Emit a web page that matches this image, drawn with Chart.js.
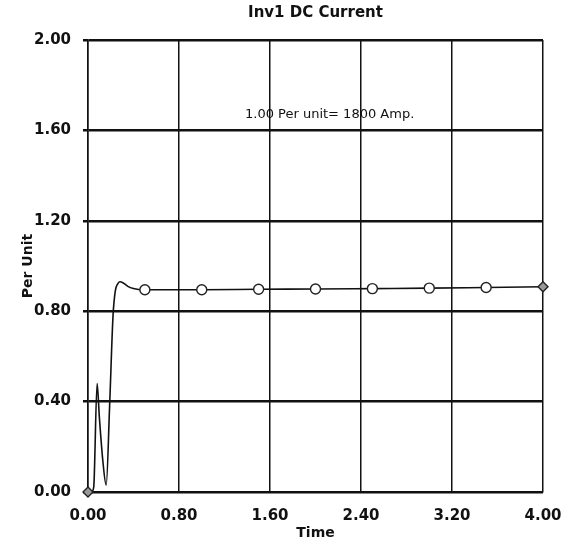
<!DOCTYPE html>
<html>
<head>
<meta charset="utf-8">
<script src="https://cdn.jsdelivr.net/npm/chart.js@4"></script>
<style>
  html, body { margin: 0; padding: 0; background: #fff; }
  #wrap { width: 566px; height: 544px; }
</style>
</head>
<body>
<div id="wrap"><canvas id="inv1"></canvas></div>
<script>
// time (s) and per-unit DC current
var time = [0, 0.03, 0.05, 0.08, 0.10, 0.13, 0.16, 0.19, 0.22, 0.24, 0.26, 0.28, 0.31, 0.35, 0.40, 0.46, 0.50, 1.00, 1.50, 2.00, 2.50, 3.00, 3.50, 4.00];
var current = [0, 0.00, 0.02, 0.48, 0.33, 0.14, 0.03, 0.38, 0.78, 0.89, 0.92, 0.93, 0.925, 0.91, 0.90, 0.895, 0.895, 0.895, 0.897, 0.898, 0.900, 0.902, 0.905, 0.908];
var markerTimes = [0.5, 1.0, 1.5, 2.0, 2.5, 3.0, 3.5];
var endTimes = [0, 4.0];
var xTickLabels = ['0.00', '0.80', '1.60', '2.40', '3.20', '4.00'];
var yTickLabels = ['0.00', '0.40', '0.80', '1.20', '1.60', '2.00'];
var chartTitle = 'Inv1 DC Current';
var note = '1.00 Per unit= 1800 Amp.';
var notePos = { t: 1.38, v: 1.67 };

var pts = time.map(function (t, i) { return { x: t, y: current[i] }; });
var fontFam = '"DejaVu Sans", sans-serif';

// title centred over the plot area, plus the unit note inside it
var textPlugin = {
    id: 'texts',
    afterDatasetsDraw: function (chart) {
        var c = chart.ctx;
        var xs = chart.scales.x, ys = chart.scales.y, a = chart.chartArea;
        c.save();
        c.fillStyle = '#111';
        c.textBaseline = 'middle';
        c.textAlign = 'center';
        c.font = 'bold 15px ' + fontFam;
        c.fillText(chartTitle, (a.left + a.right) / 2, 13);
        c.textAlign = 'left';
        c.font = '13px ' + fontFam;
        c.fillText(note, xs.getPixelForValue(notePos.t), ys.getPixelForValue(notePos.v));
        c.restore();
    }
};

var ctx = document.getElementById('inv1').getContext('2d');
var chart = new Chart(ctx, {
    type: 'line',
    data: {
        datasets: [{
            data: pts,
            borderColor: '#111',
            borderWidth: 1.6,
            cubicInterpolationMode: 'monotone',
            fill: false,
            clip: false,
            pointRadius: function (c) {
                var t = c.raw ? c.raw.x : null;
                if (endTimes.indexOf(t) >= 0) return 5;
                return markerTimes.indexOf(t) >= 0 ? 5 : 0;
            },
            pointStyle: function (c) {
                var t = c.raw ? c.raw.x : null;
                return endTimes.indexOf(t) >= 0 ? 'rectRot' : 'circle';
            },
            pointBackgroundColor: function (c) {
                var t = c.raw ? c.raw.x : null;
                return endTimes.indexOf(t) >= 0 ? '#999' : '#fff';
            },
            pointBorderColor: '#222',
            pointBorderWidth: 1.4
        }]
    },
    options: {
        responsive: true,
        maintainAspectRatio: false,
        animation: false,
        layout: { padding: { left: 0, right: 23, top: 40, bottom: 2 } },
        plugins: {
            legend: { display: false },
            tooltip: { enabled: false },
            title: { display: false }
        },
        scales: {
            x: {
                type: 'linear',
                min: 0,
                max: 4,
                ticks: {
                    stepSize: 0.8,
                    color: '#111',
                    padding: 15,
                    maxRotation: 0,
                    font: { family: fontFam, size: 15, weight: 'bold' },
                    callback: function (v, i) { return xTickLabels[i]; }
                },
                grid: { color: '#111', lineWidth: 1.5, tickLength: 0, drawTicks: false },
                border: { color: '#111', width: 1.5 },
                title: {
                    display: true,
                    text: 'Time',
                    color: '#111',
                    font: { family: fontFam, size: 14, weight: 'bold' },
                    padding: { top: 0, bottom: 0 }
                },
                afterFit: function (s) {
                    s.height = 50;
                    s.paddingLeft = 0;
                    s.paddingRight = 0;
                }
            },
            y: {
                min: 0,
                max: 2,
                ticks: {
                    stepSize: 0.4,
                    color: '#111',
                    padding: 12,
                    font: { family: fontFam, size: 15, weight: 'bold' },
                    callback: function (v, i) { return yTickLabels[i]; }
                },
                grid: { color: '#111', lineWidth: 2.5, tickLength: 5 },
                border: { color: '#111', width: 1.5 },
                title: {
                    display: true,
                    text: 'Per Unit',
                    color: '#111',
                    font: { family: fontFam, size: 14, weight: 'bold' },
                    padding: { top: 20, bottom: 4 }
                },
                afterFit: function (s) {
                    s.width = 88;
                    s.paddingTop = 0;
                    s.paddingBottom = 0;
                }
            }
        }
    },
    plugins: [textPlugin]
});
</script>
</body>
</html>
